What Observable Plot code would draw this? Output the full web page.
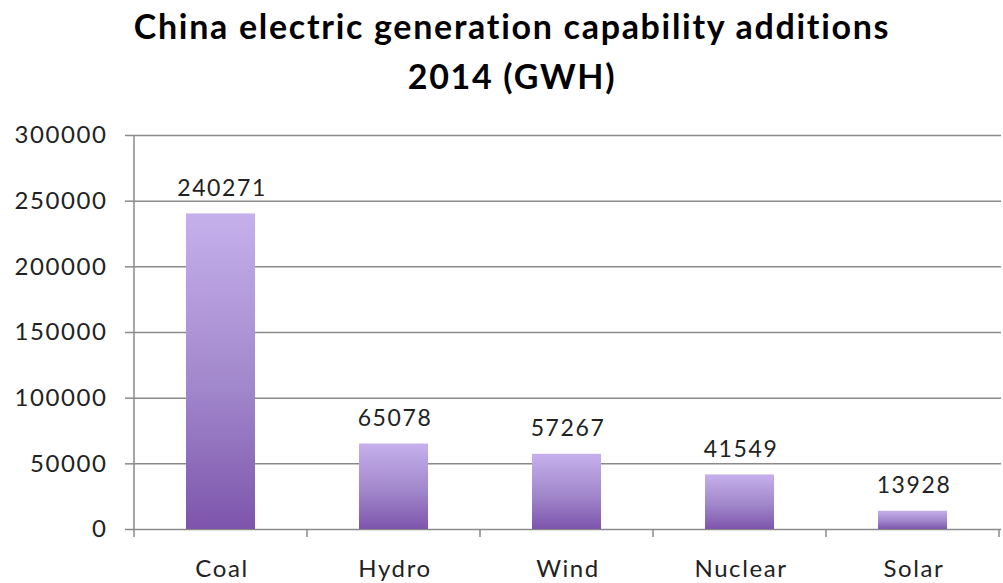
<!DOCTYPE html>
<html>
<head>
<meta charset="utf-8">
<script src="https://cdn.jsdelivr.net/npm/d3@7"></script>
<script src="https://cdn.jsdelivr.net/npm/@observablehq/plot@0.6"></script>
<style>
  body { margin: 0; background: #fff; }
  #chart { position: relative; width: 1003px; height: 583px; overflow: hidden; background: #fff; }
  #title {
    position: absolute; left: 0; top: 1px; width: 1024px;
    text-align: center; font: bold 34px Lato, sans-serif; line-height: 50px; color: #000;
    letter-spacing: 1.7px; font-variant-ligatures: none;
  }
  #plot { position: absolute; left: 0; top: 110px; }
  #plot svg text { letter-spacing: 1.6px; }
</style>
</head>
<body>
<div id="chart">
  <div id="title">China electric generation capability additions<br>2014 (GWH)</div>
  <div id="plot"></div>
</div>
<script>
// Generation capability added in 2014, by source (GWh)
const categories = ["Coal", "Hydro", "Wind", "Nuclear", "Solar"];
const values = [240271, 65078, 57267, 41549, 13928];
const yTicks = [0, 50000, 100000, 150000, 200000, 250000, 300000];

const data = categories.map((source, i) => ({source, gwh: values[i]}));

const gridColor = "#8a8a8a";

// Vertical gradient shared by every bar (light lavender at the top, deep purple at the base)
const gradientDefs = () => {
  const svg = d3.create("svg:defs");
  const g = svg.append("linearGradient")
    .attr("id", "barFill").attr("x1", 0).attr("y1", 0).attr("x2", 0).attr("y2", 1);
  g.append("stop").attr("offset", "0%").attr("stop-color", "#c6b0ec");
  g.append("stop").attr("offset", "55%").attr("stop-color", "#a187cb");
  g.append("stop").attr("offset", "100%").attr("stop-color", "#7d55ac");
  return svg.node();
};

// Left axis line plus the short dividers between categories below the baseline
const categoryFrame = (index, scales) => {
  const x = scales.x, y = scales.y;
  const step = x.step(), bw = x.bandwidth();
  const gap = (step - bw) / 2;
  const y0 = y(0), yTop = y(yTicks[yTicks.length - 1]);
  const bounds = categories.map(c => x(c) - gap);
  bounds.push(x(categories[categories.length - 1]) + bw + gap);
  const g = d3.create("svg:g").attr("stroke", gridColor).attr("stroke-width", 1.5);
  g.append("line").attr("x1", bounds[0]).attr("x2", bounds[0]).attr("y1", yTop).attr("y2", y0 + 8);
  bounds.slice(1).forEach(b => {
    g.append("line").attr("x1", b).attr("x2", b).attr("y1", y0).attr("y2", y0 + 8);
  });
  return g.node();
};

const chart = Plot.plot({
  width: 1003,
  height: 473,
  marginLeft: 133,
  marginRight: 2,
  marginTop: 25,
  marginBottom: 54,
  style: {fontFamily: "Lato, sans-serif", color: "#222", background: "#fff"},
  x: {domain: categories, paddingInner: 0.6, paddingOuter: 0.3, label: null},
  y: {domain: [0, 300000], label: null},
  marks: [
    gradientDefs,
    Plot.gridY(yTicks, {stroke: gridColor, strokeOpacity: 1, strokeWidth: 1.5}),
    Plot.barY(data, {x: "source", y: "gwh", fill: "url(#barFill)"}),
    Plot.text(data, {
      x: "source", y: "gwh", text: d => String(d.gwh),
      lineAnchor: "bottom", dy: -18, dx: 1, fontSize: 23, fill: "#222"
    }),
    Plot.axisY(yTicks, {
      tickSize: 8, tickPadding: 18, fontSize: 24, stroke: gridColor, strokeWidth: 1.5,
      tickFormat: d => String(d), label: null
    }),
    Plot.axisX({tickSize: 0, tickPadding: 30, fontSize: 24, dx: 1, label: null}),
    categoryFrame
  ]
});

document.getElementById("plot").appendChild(chart);
</script>
</body>
</html>
